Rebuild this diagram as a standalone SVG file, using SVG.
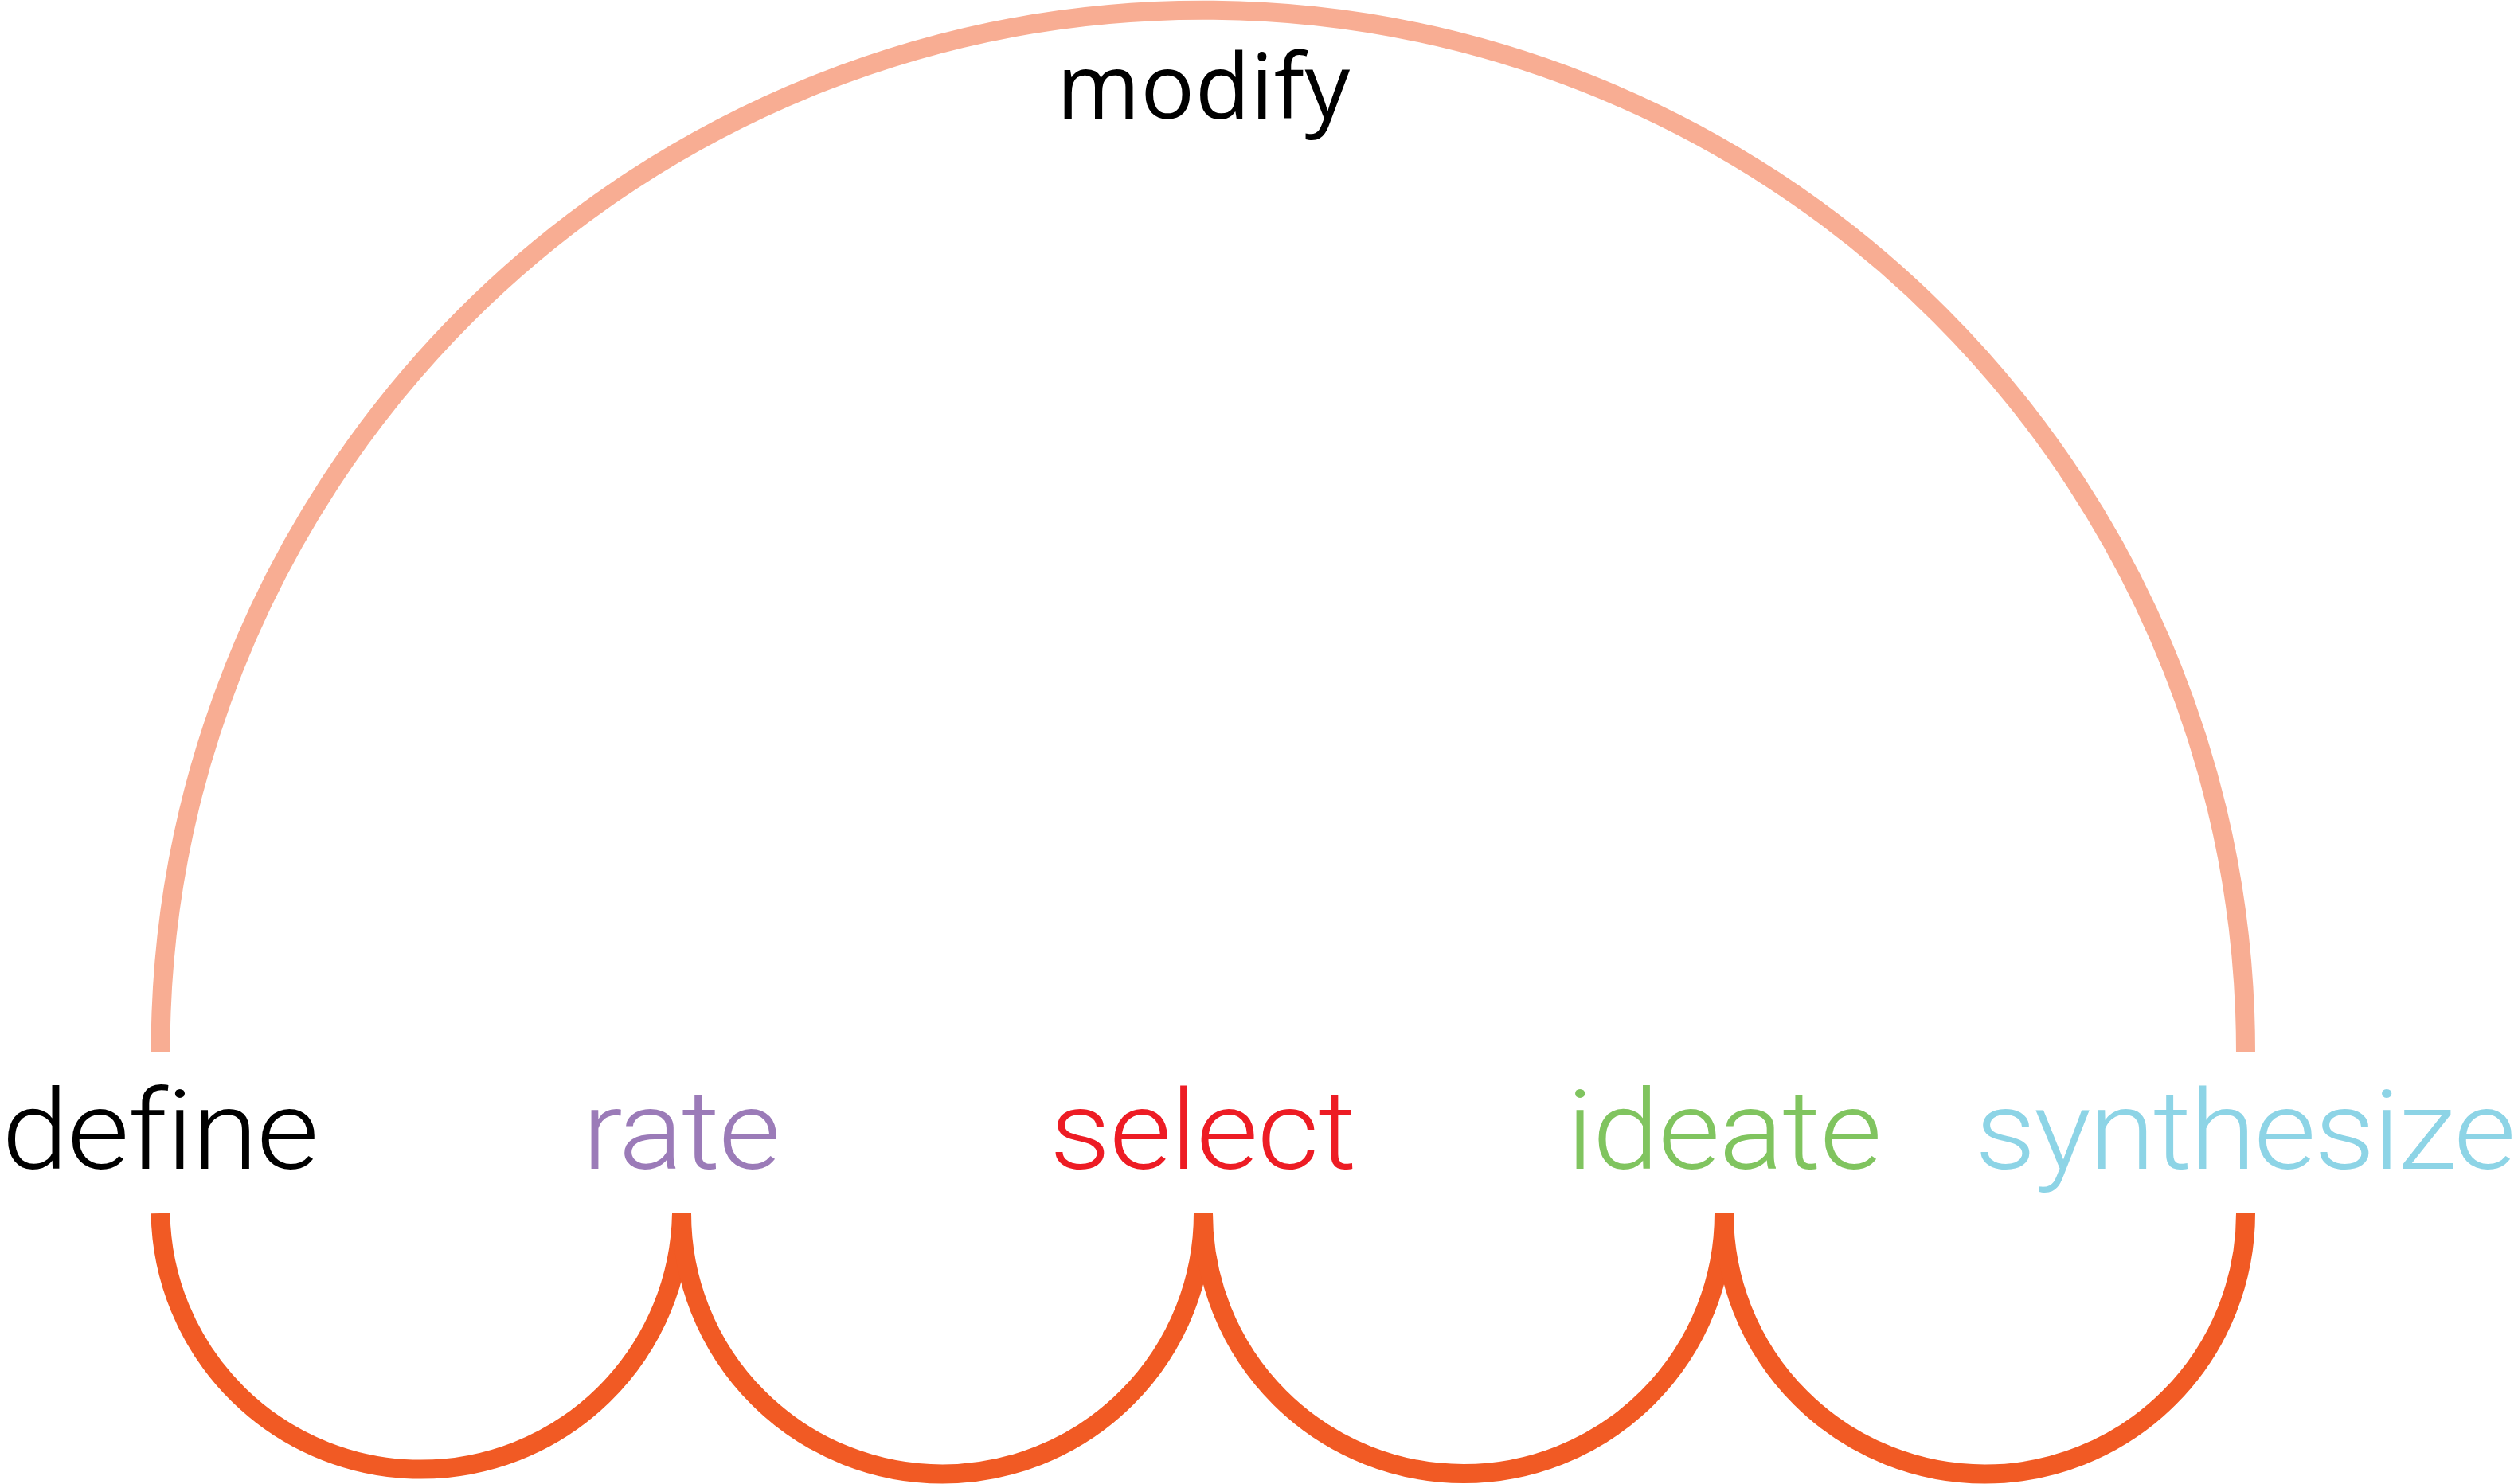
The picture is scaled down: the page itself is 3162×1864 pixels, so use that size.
<svg xmlns="http://www.w3.org/2000/svg" width="3162" height="1864" viewBox="0 0 3162 1864">
<style>
.arc{fill:none;stroke-linecap:butt}
.big{stroke:#F8AD93;stroke-width:24}
.small{stroke:#F15A24;stroke-width:24}
.lbl{font-family:Roboto,"Liberation Sans",sans-serif;font-weight:300;font-size:140px;font-variant-ligatures:none;font-feature-settings:"liga" 0}
.top{font-family:"Open Sans","Liberation Sans",sans-serif;font-weight:400;font-size:113px;fill:#000}
</style>
<rect width="3162" height="1864" fill="#fff"/>
<g id="connectors">
<path class="arc big" d="M201.5,1322 A1309.25,1309.25 0 0 1 2820,1322"/>
<path class="arc small" d="M201.5,1524 A327.3,327.3 0 0 0 856,1524"/>
<path class="arc small" d="M856,1524 A327.5,327.5 0 0 0 1511,1524"/>
<path class="arc small" d="M1511,1524 A327,327 0 0 0 2165,1524"/>
<path class="arc small" d="M2165,1524 A327.5,327.5 0 0 0 2820,1524"/>
</g>
<g id="modify"><text class="top" x="1327" y="149" textLength="368" lengthAdjust="spacing">modify</text></g>
<g id="define"><text class="lbl" transform="translate(2,1468) scale(1.08,1)" fill="#000" textLength="369" lengthAdjust="spacing">define</text></g>
<g id="rate"><text class="lbl" transform="translate(731,1468) scale(1.08,1)" fill="#9B7BB8" textLength="231" lengthAdjust="spacing">rate</text></g>
<g id="select"><text class="lbl" transform="translate(1318,1468) scale(1.08,1)" fill="#ED1C24" textLength="357" lengthAdjust="spacing">select</text></g>
<g id="ideate"><text class="lbl" transform="translate(1967,1468) scale(1.08,1)" fill="#80C45F" textLength="367" lengthAdjust="spacing">ideate</text></g>
<g id="synthesize"><text class="lbl" transform="translate(2480,1468) scale(1.08,1)" fill="#8DD4E6" textLength="629" lengthAdjust="spacing">synthesize</text></g>
</svg>
